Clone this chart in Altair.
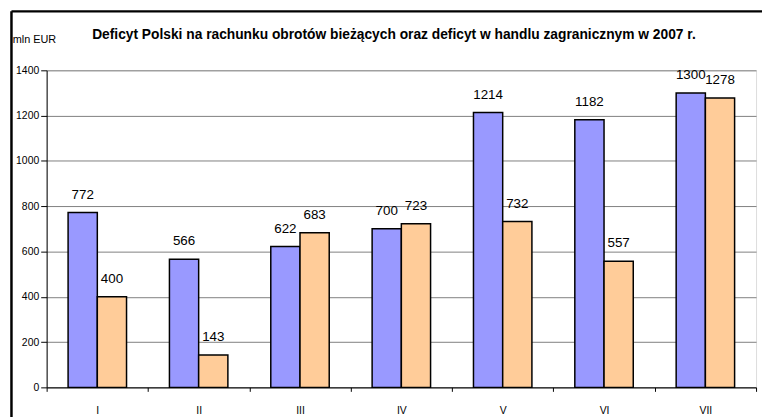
import altair as alt
import pandas as pd

months = ["I", "II", "III", "IV", "V", "VI", "VII"]
current_account = [772, 566, 622, 700, 1214, 1182, 1300]
trade_deficit = [400, 143, 683, 723, 732, 557, 1278]
series_names = ["Deficyt na rachunku obrotów bieżących", "Deficyt w handlu zagranicznym"]
series_colors = ["#9999FF", "#FFCC99"]
y_ticks = [0, 200, 400, 600, 800, 1000, 1200, 1400]
title_text = "Deficyt Polski na rachunku obrotów bieżących oraz deficyt w handlu zagranicznym w 2007 r."
unit_text = "mln EUR"

rows = []
for m, a, b in zip(months, current_account, trade_deficit):
    rows.append({"month": m, "series": series_names[0], "value": a})
    rows.append({"month": m, "series": series_names[1], "value": b})
df = pd.DataFrame(rows)

FONT = "Liberation Sans"
W, H = 716, 320

x_enc = alt.X("month:N", sort=months, title=None,
              scale=alt.Scale(paddingInner=0, paddingOuter=0),
              axis=alt.Axis(labelAngle=0, tickBand="extent", domainColor="black",
                            tickColor="black", tickSize=4, labelPadding=14,
                            labelFontSize=10.5, labelColor="black", labelFont=FONT,
                            grid=False, domainWidth=1))
xo_enc = alt.XOffset("series:N", sort=series_names,
                     scale=alt.Scale(paddingOuter=0.734, paddingInner=0))

base = alt.Chart(df)

bars = base.mark_bar(stroke="black", strokeWidth=1.5).encode(
    x=x_enc,
    xOffset=xo_enc,
    y=alt.Y("value:Q", title=None,
            scale=alt.Scale(domain=[0, 1400], nice=False),
            axis=alt.Axis(values=y_ticks, format="d", domainColor="black",
                          tickColor="black", tickSize=6, labelPadding=2,
                          labelFontSize=10.5, labelColor="black", labelFont=FONT,
                          gridColor="#808080", gridWidth=1)),
    color=alt.Color("series:N", sort=series_names,
                    scale=alt.Scale(domain=series_names, range=series_colors),
                    legend=None),
)

labels = base.mark_text(baseline="middle", dy=-18, fontSize=13.5, font=FONT,
                        color="black").encode(
    x=alt.X("month:N", sort=months),
    xOffset=xo_enc,
    y=alt.Y("value:Q"),
    text=alt.Text("value:Q"),
)

one = pd.DataFrame({"t": [title_text], "u": [unit_text]})

title_mark = alt.Chart(one).mark_text(
    font=FONT, fontSize=13.9, fontWeight="bold", color="black",
    align="center", baseline="alphabetic").encode(
    x=alt.value(350.5), y=alt.value(-31.7), text="t:N")

unit_mark = alt.Chart(one).mark_text(
    font=FONT, fontSize=11, color="black",
    align="left", baseline="alphabetic").encode(
    x=alt.value(-34.3), y=alt.value(-27.3), text="u:N")

frame_left = alt.Chart(one).mark_rule(color="black", strokeWidth=2.5).encode(
    x=alt.value(-35.5), y=alt.value(-59.5), y2=alt.value(H + 40))
frame_top = alt.Chart(one).mark_rule(color="black", strokeWidth=2.5).encode(
    x=alt.value(-35.5), x2=alt.value(W + 6), y=alt.value(-59.5))

chart = alt.layer(bars, labels, title_mark, unit_mark, frame_left, frame_top).properties(
    width=W, height=H,
    autosize=alt.AutoSizeParams(type="none"),
    padding={"left": 39, "top": 61, "right": 6, "bottom": 28},
).configure_view(stroke="#808080", strokeWidth=1).configure(font=FONT, background="white")

chart.save("out.html", embed_options={"renderer": "svg", "actions": False})
